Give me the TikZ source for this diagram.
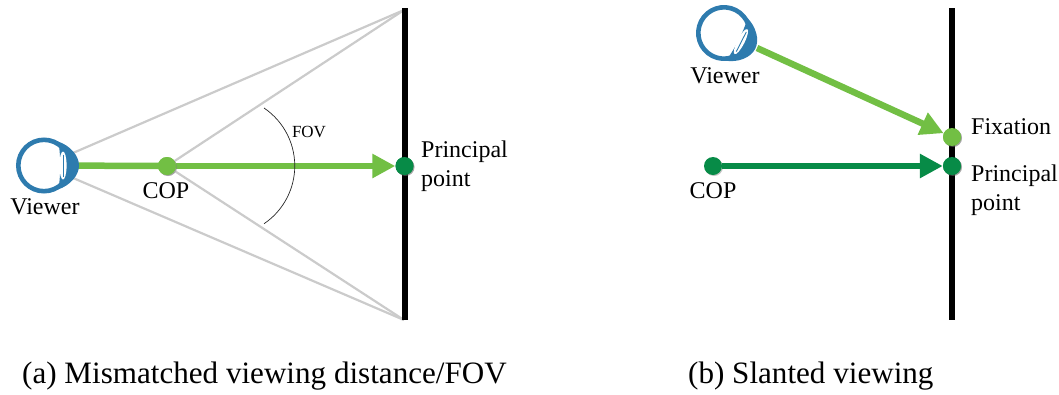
\documentclass[tikz,border=0pt]{standalone}
\usepackage{fontspec}
\setmainfont{Liberation Serif}
\usetikzlibrary{arrows.meta,shadows}
\definecolor{lg}{HTML}{72BF44}
\definecolor{dg}{HTML}{078B47}
\definecolor{eb}{HTML}{2E7BAE}
\definecolor{gl}{HTML}{CBCBCB}
\tikzset{
  dotn/.style={circle,inner sep=0pt,minimum size=18pt,fill=#1,drop shadow={shadow xshift=1pt,shadow yshift=-1pt,opacity=.45}},
  sens/.style={line width=6pt,black},
  ray/.style={line width=2.2pt,gl},
  gaze/.style={line width=6.5pt,draw=#1,-{Triangle[length=23pt,width=23pt,fill=#1]}},
  lab/.style={font=\fontsize{24}{29}\selectfont,inner sep=0pt,align=left},
  captext/.style={font=\fontsize{31.1}{36}\selectfont,inner sep=0pt,anchor=base west},
  eyenode/.style={circle,inner sep=0pt,minimum size=58pt},
}
\newcommand{\eyeball}[3]{%
  \begin{scope}[shift={(#1,#2)},rotate=#3]
    \fill[eb] (14,-24) .. controls (26,-20) and (35,-10) .. (35,0) .. controls (35,10) and (26,20) .. (14,24) -- cycle;
    \draw[eb,line width=4.6pt,fill=white] (0,0) circle (25.7pt);
    \begin{scope}
      \clip (0,0) circle (26pt);
      \fill[eb] (14,-26) .. controls (17,-10) and (17,10) .. (14,26) -- (30,26) -- (30,-26) -- cycle;
    \end{scope}
    \fill[white] (19,0) ellipse (3.6pt and 14pt);
    \draw[eb,line width=.9pt] (19.4,-11) -- (19.4,11);
  \end{scope}}
\begin{document}
\begin{tikzpicture}[x=1pt,y=-1pt]
\useasboundingbox (0,0) rectangle (1059,394);
% left panel
\node[eyenode] (eyeA) at (44,165.5) {};
\coordinate (topA) at (404,10);
\coordinate (botA) at (404,320);
\coordinate (lineAt) at (404.5,8);
\coordinate (lineAb) at (404.5,320);
\node[dotn=lg] (copA) at (167,166) {};
\node[dotn=dg] (ppA) at (404.5,166) {};
\draw[ray] (eyeA) -- (topA);
\draw[ray] (eyeA) -- (botA);
\draw[ray] (copA) -- (topA);
\draw[ray] (copA) -- (botA);
\draw[sens] (lineAt) -- (lineAb);
\draw[line width=6.5pt,lg] (eyeA.center) -- (copA.center);
\draw[gaze=lg] (copA) -- (ppA);
\draw[line width=.7pt,black!85] (264,108) arc[start angle=56,end angle=-56,radius=69.8pt];
\node[dotn=lg] at (copA) {};
\node[dotn=dg] at (ppA) {};
\eyeball{44}{165.5}{0}
\node[lab] (lv1) at (45,207) {Viewer};
\node[lab] (lc1) at (166,191) {COP};
\node[font=\fontsize{17}{20}\selectfont,inner sep=0pt] (fov) at (309,132) {FOV};
\node[lab,anchor=north west] (lp1) at (421,141) {Principal\\point};
% right panel
\node[eyenode] (eyeB) at (724,33) {};
\coordinate (lineBt) at (952,8);
\coordinate (lineBb) at (952,320);
\node[dotn=lg] (fix) at (952,137) {};
\node[dotn=dg] (ppB) at (952,166) {};
\node[dotn=dg] (copB) at (713,166) {};
\draw[sens] (lineBt) -- (lineBb);
\coordinate (gazeB) at (757,48);
\draw[gaze=lg] (gazeB) -- (fix);
\draw[gaze=dg] (copB) -- (ppB);
\node[dotn=lg] at (fix) {};
\node[dotn=dg] at (ppB) {};
\eyeball{724}{33}{-27}
\node[lab] (lv2) at (725,76) {Viewer};
\node[lab] (lc2) at (713,191) {COP};
\node[lab,anchor=west] (lf) at (971,127) {Fixation};
\node[lab,anchor=north west] (lp2) at (971,165) {Principal\\point};
% captions
\node[captext] (ca) at (22,383) {(a) Mismatched viewing distance/FOV};
\node[captext] (cb) at (688,383) {(b) Slanted viewing};
\end{tikzpicture}
\end{document}
